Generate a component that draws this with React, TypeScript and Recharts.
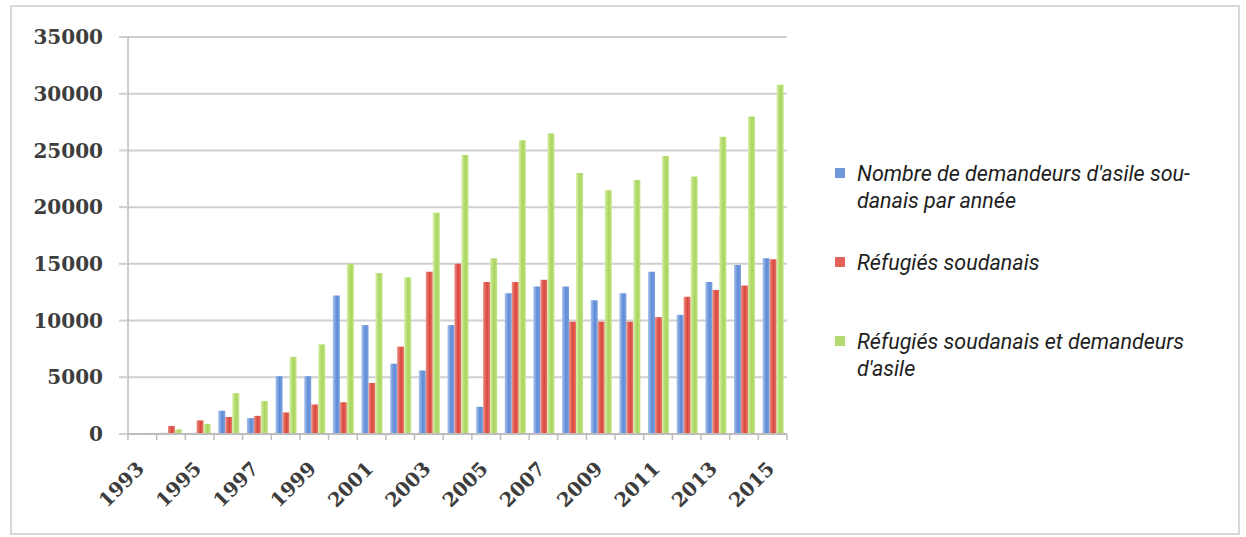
import React from 'react';
import { BarChart, Bar, XAxis, YAxis, CartesianGrid, Legend } from 'recharts';

// Sudanese asylum seekers and refugees, 1993–2015
const years = [
  '1993', '1994', '1995', '1996', '1997', '1998', '1999', '2000', '2001', '2002', '2003', '2004',
  '2005', '2006', '2007', '2008', '2009', '2010', '2011', '2012', '2013', '2014', '2015',
];
const asylumSeekers = [
  50, 100, 100, 2050, 1400, 5100, 5100, 12200, 9600, 6200, 5600, 9600,
  2400, 12400, 13000, 13000, 11800, 12400, 14300, 10500, 13400, 14900, 15500,
];
const refugees = [
  50, 700, 1200, 1500, 1600, 1900, 2600, 2800, 4500, 7700, 14300, 15000,
  13400, 13400, 13600, 9900, 9900, 9900, 10300, 12100, 12700, 13100, 15400,
];
const refugeesAndAsylum = [
  100, 400, 900, 3600, 2900, 6800, 7900, 15000, 14200, 13800, 19500, 24600,
  15500, 25900, 26500, 23000, 21500, 22400, 24500, 22700, 26200, 28000, 30800,
];
const yTicks = [0, 5000, 10000, 15000, 20000, 25000, 30000, 35000];

const seriesNames = [
  ["Nombre de demandeurs d'asile sou-", 'danais par année'],
  ['Réfugiés soudanais'],
  ['Réfugiés soudanais et demandeurs', "d'asile"],
];

const data = years.map((year, i) => ({
  year,
  asylumSeekers: asylumSeekers[i],
  refugees: refugees[i],
  refugeesAndAsylum: refugeesAndAsylum[i],
}));

const W = 1246;
const H = 537;
const Y_AXIS_W = 128;
const X_AXIS_H = 103;
const margin = { top: 37, right: 459, bottom: 0, left: 0 };
const plotW = W - margin.left - margin.right - Y_AXIS_W;
const band = plotW / years.length;

const axisFont = '"DejaVu Serif", "Liberation Serif", serif';
const gridColor = '#cfcfcf';

// Category-boundary tick marks, with every other year written at 45°
const XTick = (props: any) => {
  const { x, y, payload, index } = props;
  const left = x - band / 2;
  const tx = x + 3;
  const ty = y + 36;
  return (
    <g>
      <line x1={left} x2={left} y1={y} y2={y + 6} stroke="#bdbdbd" strokeWidth={1.5} />
      {index === years.length - 1 && (
        <line x1={x + band / 2} x2={x + band / 2} y1={y} y2={y + 6} stroke="#bdbdbd" strokeWidth={1.5} />
      )}
      {index % 2 === 0 && (
        <text
          x={tx}
          y={ty}
          textAnchor="end"
          transform={`rotate(-45, ${tx}, ${ty})`}
          fontFamily={axisFont}
          fontWeight="bold"
          fontSize={19.5}
          fill="#3d3d3d"
        >
          {payload.value}
        </text>
      )}
    </g>
  );
};

const swatchColors = ['#6f98dc', '#e0625a', '#b4da74'];
const itemTops = [0, 89, 168];

const LegendBox = () => (
  <div style={{ position: 'relative', width: 410, height: 230 }}>
    {seriesNames.map((lines, i) => (
      <div key={i} style={{ position: 'absolute', left: 0, top: itemTops[i] }}>
        <div
          style={{
            position: 'absolute',
            left: 5,
            top: 8,
            width: 10,
            height: 10,
            background: swatchColors[i],
          }}
        />
        <div
          style={{
            position: 'absolute',
            left: 27,
            top: 0,
            whiteSpace: 'nowrap',
            fontFamily: 'Roboto, "Noto Sans", sans-serif',
            fontStyle: 'italic',
            fontSize: 21.5,
            lineHeight: '27px',
            color: '#1e1e1e',
          }}
        >
          {lines.map((l, j) => (
            <div key={j}>{l}</div>
          ))}
        </div>
      </div>
    ))}
  </div>
);

export default function App() {
  return (
    <div style={{ position: 'absolute', left: 0, top: 0, width: W, height: H, background: '#ffffff', overflow: 'hidden' }}>
      <BarChart
        width={W}
        height={H}
        data={data}
        margin={margin}
        barCategoryGap="15%"
        barGap={0}
      >
        <defs>
          <linearGradient id="gBlue" x1="0" y1="0" x2="1" y2="0">
            <stop offset="0%" stopColor="#a9c3ee" />
            <stop offset="55%" stopColor="#5f8bd6" />
            <stop offset="100%" stopColor="#7ea2e0" />
          </linearGradient>
          <linearGradient id="gRed" x1="0" y1="0" x2="1" y2="0">
            <stop offset="0%" stopColor="#ec8f84" />
            <stop offset="55%" stopColor="#d9463c" />
            <stop offset="100%" stopColor="#ea7b70" />
          </linearGradient>
          <linearGradient id="gGreen" x1="0" y1="0" x2="1" y2="0">
            <stop offset="0%" stopColor="#d6efa6" />
            <stop offset="55%" stopColor="#a9d45e" />
            <stop offset="100%" stopColor="#c3e585" />
          </linearGradient>
        </defs>
        <CartesianGrid vertical={false} stroke={gridColor} strokeWidth={2} />
        <XAxis
          dataKey="year"
          interval={0}
          tickLine={false}
          tickSize={0}
          tickMargin={0}
          axisLine={{ stroke: '#bdbdbd', strokeWidth: 2 }}
          tick={<XTick />}
          height={X_AXIS_H}
        />
        <YAxis
          width={Y_AXIS_W}
          domain={[0, 35000]}
          ticks={yTicks}
          interval={0}
          allowDataOverflow
          tickSize={9}
          tickMargin={16}
          axisLine={{ stroke: '#bdbdbd', strokeWidth: 1.5 }}
          tickLine={{ stroke: gridColor, strokeWidth: 2 }}
          tick={{ fontFamily: axisFont, fontWeight: 'bold', fontSize: 20, fill: '#3d3d3d' }}
        />
        <Legend
          layout="vertical"
          align="center"
          verticalAlign="middle"
          wrapperStyle={{ left: 830, top: 160, width: 410, height: 230 }}
          content={() => <LegendBox />}
        />
        <Bar dataKey="asylumSeekers" name={seriesNames[0].join(' ')} fill="url(#gBlue)" isAnimationActive={false} />
        <Bar dataKey="refugees" name={seriesNames[1].join(' ')} fill="url(#gRed)" isAnimationActive={false} />
        <Bar dataKey="refugeesAndAsylum" name={seriesNames[2].join(' ')} fill="url(#gGreen)" isAnimationActive={false} />
      </BarChart>
      <div
        style={{
          position: 'absolute',
          left: 10,
          top: 5,
          width: 1226,
          height: 526,
          border: '2px solid #d8d8d8',
          pointerEvents: 'none',
        }}
      />
    </div>
  );
}
